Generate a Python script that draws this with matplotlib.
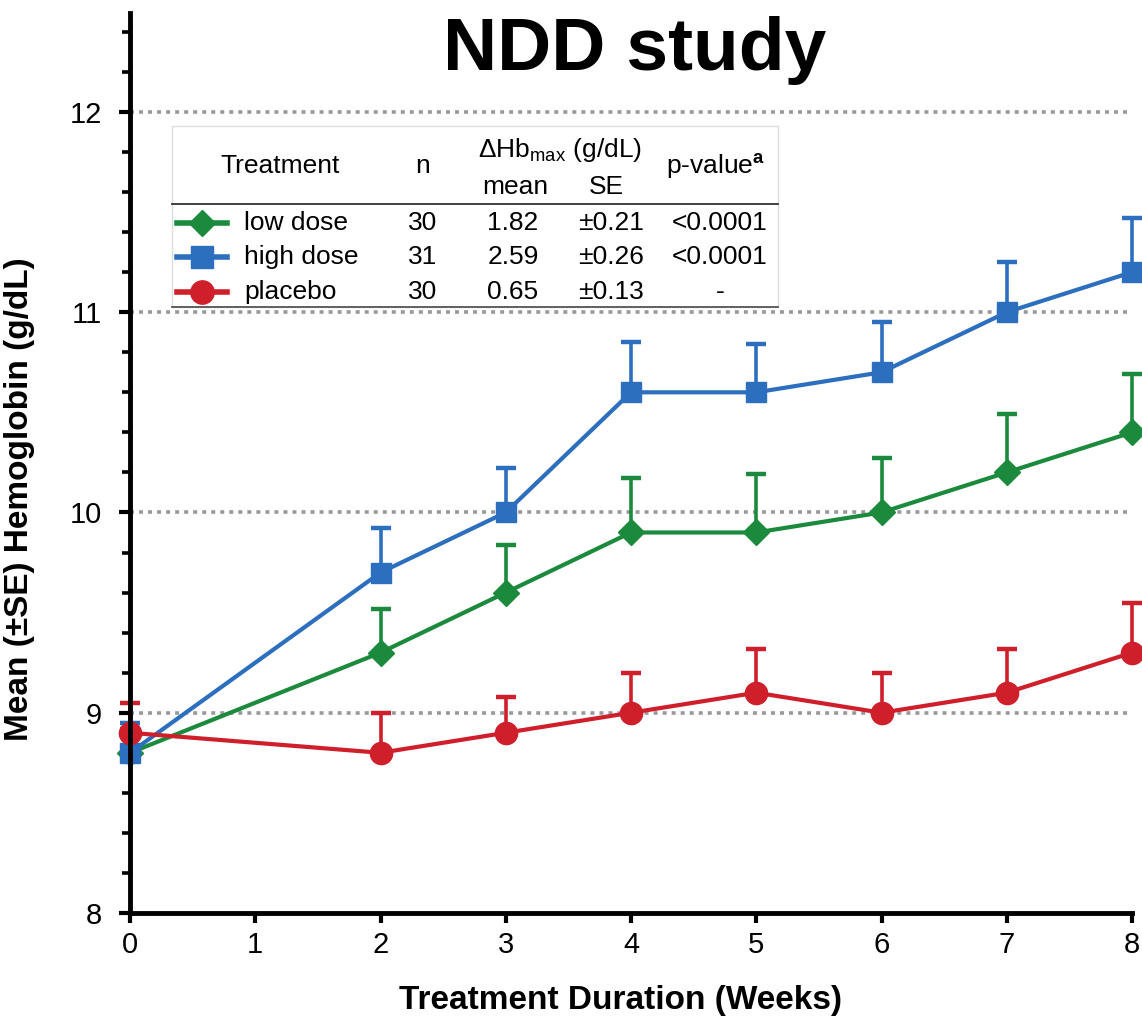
import matplotlib
matplotlib.use("Agg")
import matplotlib.pyplot as plt
from matplotlib.lines import Line2D
from matplotlib.patches import Rectangle
from matplotlib.ticker import MultipleLocator

plt.rcParams['font.family'] = ['Liberation Sans', 'DejaVu Sans']
plt.rcParams['mathtext.fontset'] = 'custom'
plt.rcParams['mathtext.rm'] = 'Liberation Sans'
plt.rcParams['mathtext.bf'] = 'Liberation Sans:bold'

# mean hemoglobin (g/dL) by week, with upper SE
weeks = [0, 2, 3, 4, 5, 6, 7, 8]
low_dose = [8.8, 9.3, 9.6, 9.9, 9.9, 10.0, 10.2, 10.4]
low_se = [0.12, 0.22, 0.24, 0.27, 0.29, 0.27, 0.29, 0.29]
high_dose = [8.8, 9.7, 10.0, 10.6, 10.6, 10.7, 11.0, 11.2]
high_se = [0.15, 0.22, 0.22, 0.25, 0.24, 0.25, 0.25, 0.27]
placebo = [8.9, 8.8, 8.9, 9.0, 9.1, 9.0, 9.1, 9.3]
placebo_se = [0.15, 0.2, 0.18, 0.2, 0.22, 0.2, 0.22, 0.25]

# summary table
groups = ['low dose', 'high dose', 'placebo']
n_pts = ['30', '31', '30']
dhb_mean = ['1.82', '2.59', '0.65']
dhb_se = ['\u00b10.21', '\u00b10.26', '\u00b10.13']
p_values = ['<0.0001', '<0.0001', '-']

colors = ['#1c8a3c', '#2d6fbf', '#cf1f2a']
markers = ['D', 's', 'o']
msizes = [13, 15, 16]

W, H = 1142, 1025
fig = plt.figure(figsize=(W / 100, H / 100), dpi=100)
ax = fig.add_axes([130 / W, (H - 913) / H, 1002 / W, 900 / H])


def fx(px):
    return px / W


def fy(py):
    return 1 - py / H


for yv in [9, 10, 11, 12]:
    ax.axhline(yv, color='#999999', lw=2.6, ls=(0, (1.1, 1.4)), zorder=1)

series = [low_dose, high_dose, placebo]
errs = [low_se, high_se, placebo_se]
for i, (vals, se) in enumerate(zip(series, errs)):
    ax.errorbar(weeks, vals, yerr=[[0] * len(se), se], color=colors[i],
                lw=3, marker=markers[i], ms=msizes[i], mec=colors[i],
                elinewidth=2.6, capsize=7, capthick=3.2, clip_on=False,
                zorder=3 + i)

ax.set_xlim(0, 8)
ax.set_ylim(8, 12.494)
ax.set_xticks(range(9))
ax.set_yticks([8, 9, 10, 11, 12])
ax.yaxis.set_minor_locator(MultipleLocator(0.2))

for side in ['top', 'right']:
    ax.spines[side].set_visible(False)
for side in ['left', 'bottom']:
    ax.spines[side].set_linewidth(3.5)
    ax.spines[side].set_zorder(10)

ax.tick_params(axis='y', which='major', direction='out', length=8, width=3,
               labelsize=21, pad=12)
ax.tick_params(axis='y', which='minor', direction='out', length=5.5, width=2.6)
ax.tick_params(axis='x', which='major', direction='out', length=7, width=3,
               labelsize=21, pad=6)

ax.set_ylabel('Mean (\u00b1SE) Hemoglobin (g/dL)', fontsize=24, fontweight='bold')
ax.yaxis.set_label_coords(-0.095, 0.46)
ax.set_xlabel('Treatment Duration (Weeks)', fontsize=24, fontweight='bold')
ax.xaxis.label.set_va('center')
ax.xaxis.set_label_coords(0.49, -0.097)

fig.text(fx(635), fy(70), 'NDD study', fontsize=54, fontweight='bold',
         ha='center', va='baseline')

# legend table
box = Rectangle((fx(172), fy(307)), fx(778) - fx(172), fy(126) - fy(307),
                transform=fig.transFigure, facecolor='white',
                edgecolor='#dddddd', lw=1, zorder=20)
fig.patches.append(box)
fig.add_artist(Line2D([fx(172), fx(778)], [fy(204), fy(204)], color='#333333',
                      lw=1.3, zorder=21))
fig.add_artist(Line2D([fx(172), fx(778)], [fy(307), fy(307)], color='#555555',
                      lw=1.3, zorder=21))

tfs = 19
fig.text(fx(280), fy(166), 'Treatment', fontsize=tfs, ha='center', va='center', zorder=22)
fig.text(fx(423), fy(166), 'n', fontsize=tfs, ha='center', va='center', zorder=22)
fig.text(fx(560), fy(150), r'$\Delta$Hb$_{\mathrm{max}}$ (g/dL)', fontsize=tfs,
         ha='center', va='center', zorder=22)
fig.text(fx(515), fy(187), 'mean', fontsize=tfs, ha='center', va='center', zorder=22)
fig.text(fx(606), fy(187), 'SE', fontsize=tfs, ha='center', va='center', zorder=22)
fig.text(fx(716), fy(166), r'p-value$^{\mathbf{a}}$', fontsize=tfs, ha='center',
         va='center', zorder=22)

row_y = [223, 257, 292]
for i, ry in enumerate(row_y):
    fig.add_artist(Line2D([fx(177), fx(202), fx(227)], [fy(ry)] * 3,
                          color=colors[i], lw=4, marker=markers[i],
                          ms=msizes[i] * 1.05, markevery=[1], zorder=22))
    fig.text(fx(244), fy(ry), groups[i], fontsize=tfs, ha='left', va='center', zorder=22)
    fig.text(fx(423), fy(ry), n_pts[i], fontsize=tfs, ha='center', va='center', zorder=22)
    fig.text(fx(513), fy(ry), dhb_mean[i], fontsize=tfs, ha='center', va='center', zorder=22)
    fig.text(fx(611), fy(ry), dhb_se[i], fontsize=tfs, ha='center', va='center', zorder=22)
    fig.text(fx(720), fy(ry), p_values[i], fontsize=tfs, ha='center', va='center', zorder=22)

fig.savefig('out.png', dpi=100)
